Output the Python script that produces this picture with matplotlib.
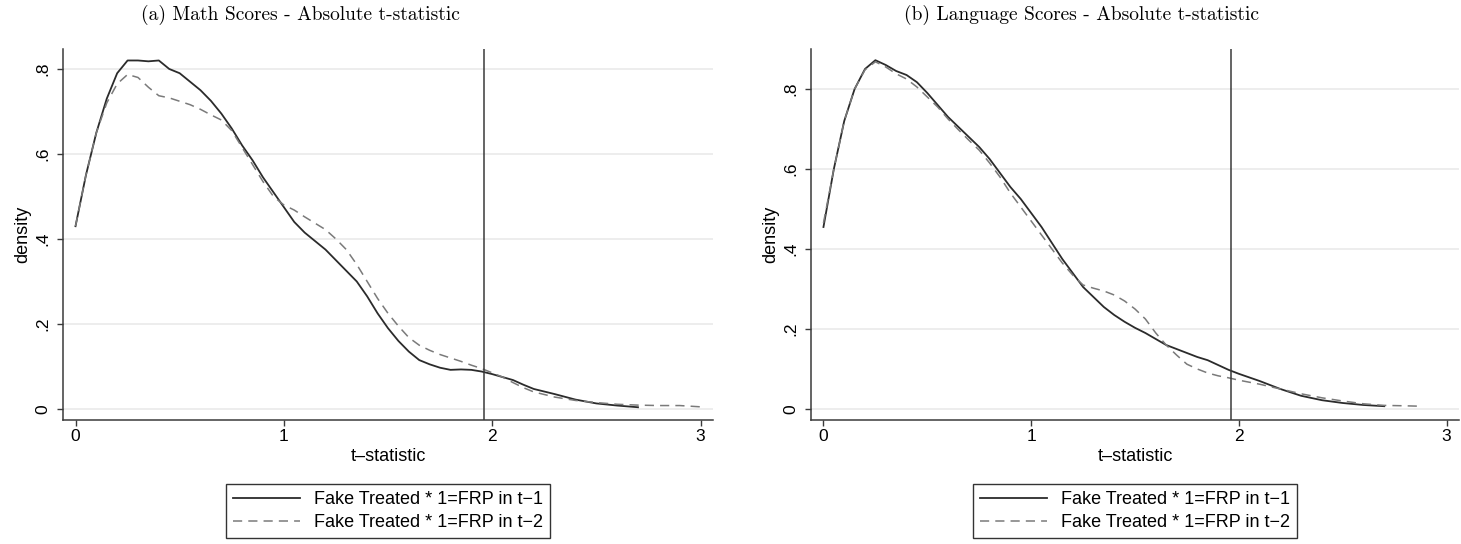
import matplotlib
matplotlib.use("Agg")
import matplotlib.pyplot as plt

# Math scores - absolute t-statistic
math_x1 = [0, 0.05, 0.1, 0.15, 0.2, 0.25, 0.3, 0.35, 0.4, 0.45, 0.5, 0.55, 0.6, 0.65,
           0.7, 0.75, 0.8, 0.85, 0.9, 0.95, 1.0, 1.05, 1.1, 1.15, 1.2, 1.25, 1.3, 1.35,
           1.4, 1.45, 1.5, 1.55, 1.6, 1.65, 1.7, 1.75, 1.8, 1.85, 1.9, 1.95, 2.0, 2.05,
           2.1, 2.15, 2.2, 2.3, 2.4, 2.5, 2.6, 2.7]
math_t1 = [0.43, 0.55, 0.65, 0.73, 0.79, 0.82, 0.82, 0.818, 0.82, 0.80, 0.79, 0.77, 0.75,
           0.725, 0.695, 0.66, 0.62, 0.585, 0.545, 0.51, 0.475, 0.44, 0.415, 0.395, 0.375,
           0.35, 0.325, 0.30, 0.265, 0.225, 0.19, 0.16, 0.135, 0.115, 0.105, 0.097, 0.092,
           0.093, 0.092, 0.088, 0.082, 0.075, 0.068, 0.057, 0.047, 0.035, 0.022, 0.013,
           0.008, 0.004]
math_x2 = [0, 0.05, 0.1, 0.15, 0.2, 0.25, 0.3, 0.35, 0.4, 0.45, 0.5, 0.55, 0.6, 0.65,
           0.7, 0.75, 0.8, 0.85, 0.9, 0.95, 1.0, 1.05, 1.1, 1.15, 1.2, 1.25, 1.3, 1.35,
           1.4, 1.45, 1.5, 1.55, 1.6, 1.65, 1.7, 1.75, 1.8, 1.85, 1.9, 1.95, 2.0, 2.05,
           2.1, 2.15, 2.2, 2.3, 2.4, 2.5, 2.6, 2.7, 2.8, 2.9, 3.0]
math_t2 = [0.43, 0.55, 0.65, 0.72, 0.765, 0.787, 0.78, 0.757, 0.737, 0.732, 0.724, 0.716,
           0.705, 0.692, 0.68, 0.655, 0.615, 0.575, 0.535, 0.5, 0.48, 0.468, 0.452, 0.437,
           0.422, 0.40, 0.375, 0.34, 0.30, 0.26, 0.225, 0.195, 0.168, 0.15, 0.138, 0.128,
           0.12, 0.112, 0.103, 0.095, 0.085, 0.075, 0.062, 0.05, 0.04, 0.028, 0.02, 0.015,
           0.011, 0.009, 0.008, 0.008, 0.005]

# Language scores - absolute t-statistic
lang_x1 = [0, 0.05, 0.1, 0.15, 0.2, 0.25, 0.3, 0.35, 0.4, 0.45, 0.5, 0.55, 0.6, 0.65,
           0.7, 0.75, 0.8, 0.85, 0.9, 0.95, 1.0, 1.05, 1.1, 1.15, 1.2, 1.25, 1.3, 1.35,
           1.4, 1.45, 1.5, 1.55, 1.6, 1.65, 1.7, 1.75, 1.8, 1.85, 1.9, 1.95, 2.0, 2.1,
           2.2, 2.3, 2.4, 2.5, 2.6, 2.7]
lang_t1 = [0.455, 0.6, 0.72, 0.8, 0.85, 0.872, 0.86, 0.845, 0.835, 0.817, 0.79, 0.76,
           0.73, 0.705, 0.68, 0.655, 0.625, 0.59, 0.555, 0.525, 0.49, 0.455, 0.415, 0.375,
           0.34, 0.305, 0.28, 0.255, 0.235, 0.218, 0.203, 0.19, 0.175, 0.16, 0.15, 0.14,
           0.13, 0.122, 0.11, 0.098, 0.088, 0.07, 0.05, 0.033, 0.022, 0.015, 0.01, 0.007]
lang_x2 = [0, 0.05, 0.1, 0.15, 0.2, 0.25, 0.3, 0.35, 0.4, 0.45, 0.5, 0.55, 0.6, 0.65,
           0.7, 0.75, 0.8, 0.85, 0.9, 0.95, 1.0, 1.05, 1.1, 1.15, 1.2, 1.25, 1.3, 1.35,
           1.4, 1.45, 1.5, 1.55, 1.6, 1.65, 1.7, 1.75, 1.8, 1.85, 1.9, 1.95, 2.0, 2.1,
           2.2, 2.3, 2.4, 2.5, 2.6, 2.7, 2.8, 2.87]
lang_t2 = [0.465, 0.6, 0.72, 0.8, 0.848, 0.868, 0.855, 0.838, 0.825, 0.805, 0.78, 0.755,
           0.725, 0.698, 0.672, 0.647, 0.615, 0.58, 0.54, 0.505, 0.47, 0.435, 0.4, 0.365,
           0.335, 0.31, 0.302, 0.295, 0.285, 0.27, 0.25, 0.225, 0.19, 0.16, 0.135, 0.112,
           0.1, 0.09, 0.083, 0.078, 0.072, 0.062, 0.05, 0.038, 0.028, 0.02, 0.013, 0.009,
           0.008, 0.007]

yticks = [0, 0.2, 0.4, 0.6, 0.8]
ytick_labels = ["0", ".2", ".4", ".6", ".8"]
xticks = [0, 1, 2, 3]
crit = 1.96
labels = ["Fake Treated * 1=FRP in t\u22121", "Fake Treated * 1=FRP in t\u22122"]
titles = ["(a) Math Scores - Absolute t-statistic",
          "(b) Language Scores - Absolute t-statistic"]

plt.rcParams['font.family'] = ['Liberation Sans', 'DejaVu Sans']

W, H = 1461, 544
fig = plt.figure(figsize=(W / 100, H / 100), dpi=100)


def px_axes(x0, x1, ytop, ybot):
    return fig.add_axes([x0 / W, (H - ybot) / H, (x1 - x0) / W, (ybot - ytop) / H])


panels = [
    (px_axes(63, 713, 49, 420), math_x1, math_t1, math_x2, math_t2, (-0.026, 0.847), 300),
    (px_axes(811, 1459, 49, 420), lang_x1, lang_t1, lang_x2, lang_t2, (-0.0275, 0.90), 1082),
]

for i, (ax, x1, y1, x2, y2, ylim, tx) in enumerate(panels):
    for y in yticks:
        ax.axhline(y, color="#eaeaea", lw=1.2, zorder=0)
    l1, = ax.plot(x1, y1, color="#2b2b2b", lw=1.3)
    l2, = ax.plot(x2, y2, color="#7a7a7a", lw=1.1, dashes=(6, 4))
    ax.axvline(crit, color="#3a3a3a", lw=1.1)

    ax.set_xlim(-0.06, 3.06)
    ax.set_ylim(*ylim)
    ax.set_xticks(xticks)
    ax.set_yticks(yticks)
    ax.set_yticklabels(ytick_labels, rotation=90, va="center")
    ax.tick_params(axis="both", labelsize=12.5, length=4.3, width=1.0, color="#3a3a3a",
                   direction="out")
    ax.tick_params(axis="x", pad=2)
    ax.tick_params(axis="y", pad=5)
    for s in ["top", "right"]:
        ax.spines[s].set_visible(False)
    for s in ["left", "bottom"]:
        ax.spines[s].set_color("#3a3a3a")
        ax.spines[s].set_linewidth(1.1)

    ax.set_xlabel("t\u2013statistic", fontsize=13, labelpad=3)
    ax.set_ylabel("density", fontsize=13, labelpad=3)

    fig.text(tx / W, 1 - 15 / H, titles[i], family="cmr10", fontsize=14,
             ha="center", va="center")

    cx = (ax.get_position().x0 + ax.get_position().x1) / 2
    leg = fig.legend([l1, l2], labels, loc="center", bbox_to_anchor=(cx, (H - 511) / H),
                     fontsize=13, frameon=True, fancybox=False, handlelength=3.7,
                     labelspacing=0.35, borderpad=0.4, handletextpad=0.8)
    leg.get_frame().set_edgecolor("black")
    leg.get_frame().set_linewidth(1.0)

fig.savefig("out.png", dpi=100, facecolor="white")
